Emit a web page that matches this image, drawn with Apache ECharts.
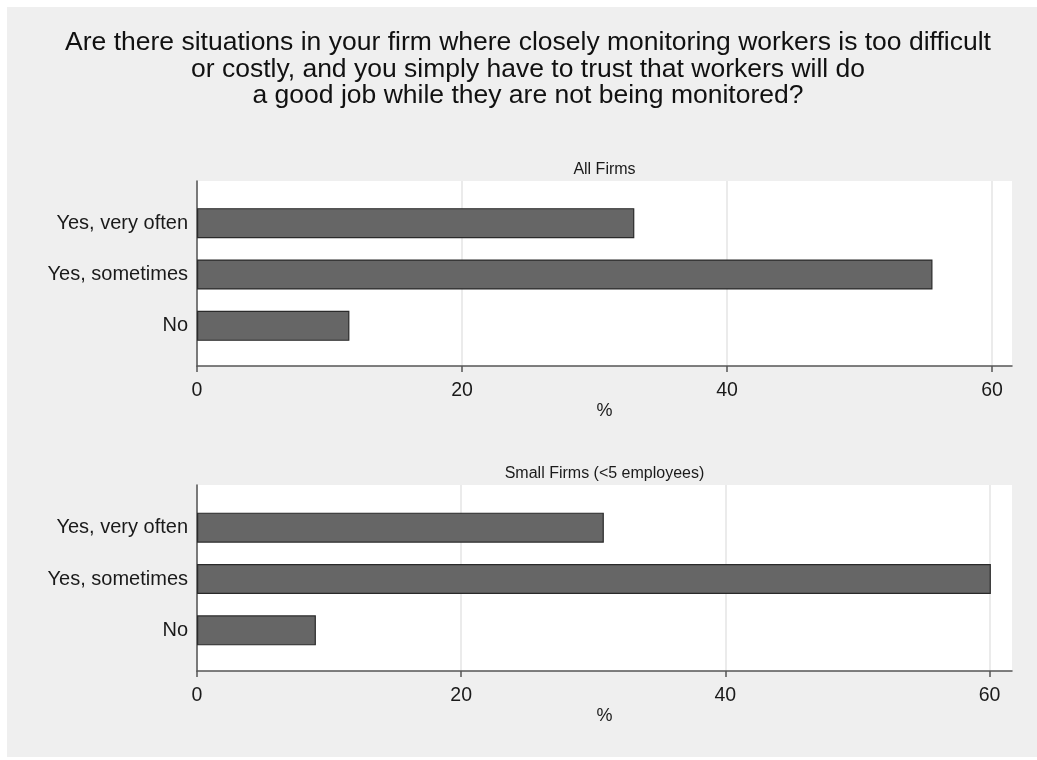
<!DOCTYPE html>
<html>
<head>
<meta charset="utf-8">
<script src="https://cdn.jsdelivr.net/npm/echarts@6/dist/echarts.min.js"></script>
<style>
  html, body { margin: 0; padding: 0; background: #ffffff; }
  #bg { position: absolute; left: 7px; top: 7px; width: 1030px; height: 750px; background: #efefef; }
  #chart { position: absolute; left: 0; top: 0; width: 1037px; height: 760px; }
</style>
</head>
<body>
<div id="bg"></div>
<div id="chart"></div>
<script>
const categories = ['Yes, very often', 'Yes, sometimes', 'No'];
const allFirms = [33.0, 55.5, 11.5];
const smallFirms = [30.8, 60.1, 9.0];
const xTicks = [0, 20, 40, 60];
const mainTitle = 'Are there situations in your firm where closely monitoring workers is too difficult\nor costly, and you simply have to trust that workers will do\na good job while they are not being monitored?';
const panelTitles = ['All Firms', 'Small Firms (<5 employees)'];
const axisName = '%';

const FONT = "'Liberation Sans', Arial, sans-serif";
const TXT = '#1a1a1a';

const panels = [
  { bgTop: 181, bgH: 185, barTop: 197.5, barH: 154, max: 61.5, data: allFirms, title: panelTitles[0], titleTop: 162 },
  { bgTop: 485, bgH: 186, barTop: 502, barH: 154, max: 61.7, data: smallFirms, title: panelTitles[1], titleTop: 466 }
];

const grids = [], xAxes = [], yAxes = [], series = [];
const titles = [{
  text: mainTitle,
  left: 528, top: 29.5, padding: 0, textAlign: 'center',
  textStyle: { fontFamily: FONT, fontSize: 26.5, fontWeight: 'normal', color: '#111111', lineHeight: 26.5 }
}];

panels.forEach((p, i) => {
  const gBg = grids.length;
  grids.push({ left: 197, top: p.bgTop, width: 815, height: p.bgH, show: true, backgroundColor: '#ffffff', borderWidth: 0 });
  xAxes.push({
    gridIndex: gBg, type: 'value', min: 0, max: p.max, interval: 20,
    name: axisName, nameLocation: 'middle', nameGap: 36,
    nameTextStyle: { fontFamily: FONT, fontSize: 18, color: TXT },
    axisLine: { show: true, onZero: false, lineStyle: { color: '#555555', width: 1.5 } },
    axisTick: { show: true, length: 6, customValues: xTicks, lineStyle: { color: '#555555', width: 1.5 } },
    axisLabel: { fontFamily: FONT, fontSize: 19.5, color: TXT, margin: 15, customValues: xTicks },
    splitLine: { show: true, lineStyle: { color: '#e4e4e4', width: 1.5 } }
  });
  yAxes.push({
    gridIndex: gBg, type: 'value', min: 0, max: 1,
    axisLine: { show: true, lineStyle: { color: '#555555', width: 1.5 } },
    axisTick: { show: false }, axisLabel: { show: false }, splitLine: { show: false }
  });
  const gBar = grids.length;
  grids.push({ left: 197, top: p.barTop, width: 815, height: p.barH });
  xAxes.push({ gridIndex: gBar, type: 'value', min: 0, max: p.max, show: false, splitLine: { show: false } });
  yAxes.push({
    gridIndex: gBar, type: 'category', data: categories, inverse: true,
    axisLine: { show: false }, axisTick: { show: false }, splitLine: { show: false },
    axisLabel: { fontFamily: FONT, fontSize: 20, color: TXT, margin: 9 }
  });
  series.push({
    type: 'bar', xAxisIndex: gBar, yAxisIndex: gBar, data: p.data, barWidth: 30,
    itemStyle: { color: '#666666', borderColor: '#2a2a2a', borderWidth: 1.2 },
    silent: true
  });
  titles.push({
    text: p.title, left: 604.5, top: p.titleTop, padding: 0, textAlign: 'center',
    textStyle: { fontFamily: FONT, fontSize: 16, fontWeight: 'normal', color: TXT }
  });
});

const chart = echarts.init(document.getElementById('chart'), null, { renderer: 'canvas' });
chart.setOption({
  backgroundColor: 'transparent',
  animation: false,
  title: titles,
  grid: grids,
  xAxis: xAxes,
  yAxis: yAxes,
  series: series
});
</script>
</body>
</html>
